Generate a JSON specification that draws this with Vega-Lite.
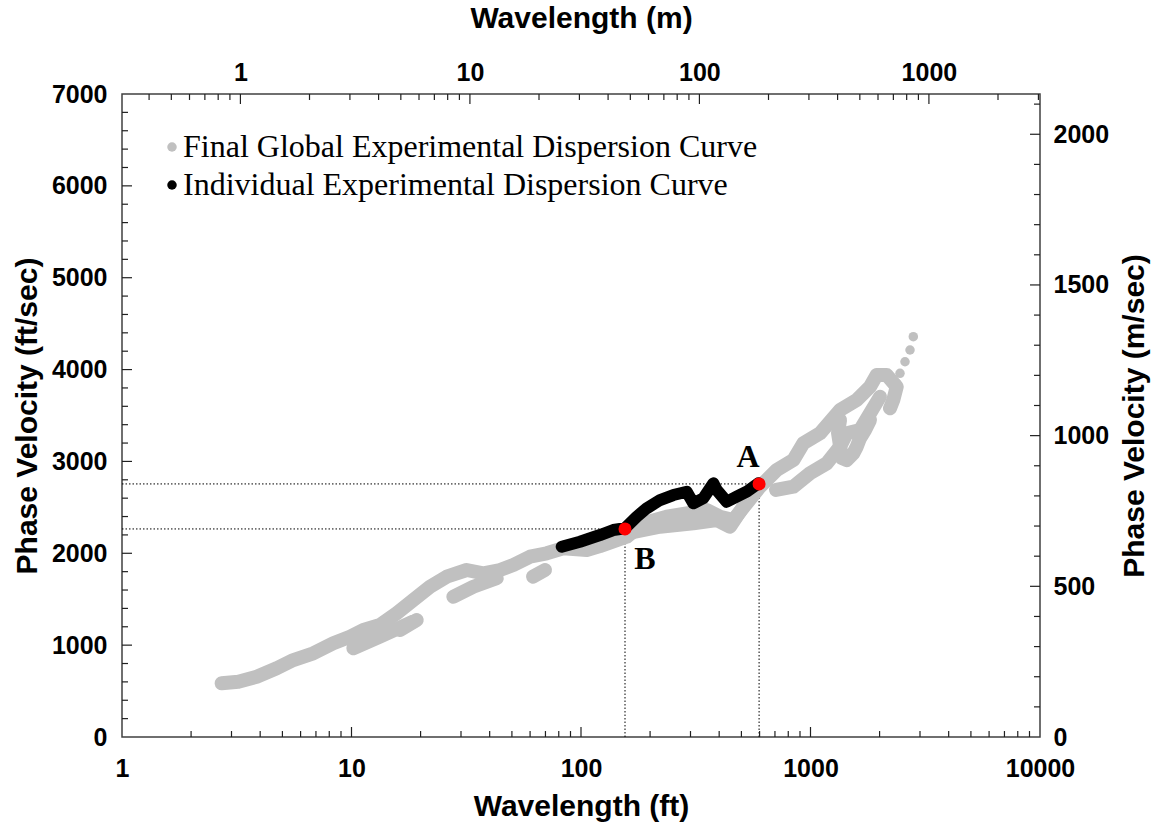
{
  "$schema": "https://vega.github.io/schema/vega-lite/v6.json",
  "width": 918,
  "height": 643,
  "autosize": "none",
  "padding": {"left": 122, "top": 94, "right": 113, "bottom": 93},
  "background": "white",
  "config": {
    "view": {"stroke": "#404040", "strokeWidth": 1.5},
    "axis": {
      "grid": false,
      "domain": false,
      "ticks": false,
      "labelFont": "Liberation Sans",
      "labelFontWeight": "bold",
      "labelFontSize": 25,
      "labelColor": "black",
      "titleFont": "Liberation Sans",
      "titleFontWeight": "bold",
      "titleFontSize": 30,
      "titleColor": "black"
    },
    "legend": {
      "orient": "none",
      "legendX": 34,
      "legendY": 37,
      "padding": 0,
      "labelFont": "Liberation Serif",
      "labelFontSize": 32,
      "labelColor": "black",
      "labelLimit": 900,
      "labelOffset": -5,
      "symbolType": "circle",
      "symbolSize": 90,
      "symbolStrokeWidth": 0,
      "rowPadding": 6
    }
  },
  "datasets": {
    "tickmarks": [
      {"x": 10, "x2": 10, "y": 0, "y2": 109},
      {"x": 100, "x2": 100, "y": 0, "y2": 109},
      {"x": 1000, "x2": 1000, "y": 0, "y2": 109},
      {"x": 2, "x2": 2, "y": 0, "y2": 65},
      {"x": 3, "x2": 3, "y": 0, "y2": 65},
      {"x": 4, "x2": 4, "y": 0, "y2": 65},
      {"x": 5, "x2": 5, "y": 0, "y2": 65},
      {"x": 6, "x2": 6, "y": 0, "y2": 65},
      {"x": 7, "x2": 7, "y": 0, "y2": 65},
      {"x": 8, "x2": 8, "y": 0, "y2": 65},
      {"x": 9, "x2": 9, "y": 0, "y2": 65},
      {"x": 20, "x2": 20, "y": 0, "y2": 65},
      {"x": 30, "x2": 30, "y": 0, "y2": 65},
      {"x": 40, "x2": 40, "y": 0, "y2": 65},
      {"x": 50, "x2": 50, "y": 0, "y2": 65},
      {"x": 60, "x2": 60, "y": 0, "y2": 65},
      {"x": 70, "x2": 70, "y": 0, "y2": 65},
      {"x": 80, "x2": 80, "y": 0, "y2": 65},
      {"x": 90, "x2": 90, "y": 0, "y2": 65},
      {"x": 200, "x2": 200, "y": 0, "y2": 65},
      {"x": 300, "x2": 300, "y": 0, "y2": 65},
      {"x": 400, "x2": 400, "y": 0, "y2": 65},
      {"x": 500, "x2": 500, "y": 0, "y2": 65},
      {"x": 600, "x2": 600, "y": 0, "y2": 65},
      {"x": 700, "x2": 700, "y": 0, "y2": 65},
      {"x": 800, "x2": 800, "y": 0, "y2": 65},
      {"x": 900, "x2": 900, "y": 0, "y2": 65},
      {"x": 2000, "x2": 2000, "y": 0, "y2": 65},
      {"x": 3000, "x2": 3000, "y": 0, "y2": 65},
      {"x": 4000, "x2": 4000, "y": 0, "y2": 65},
      {"x": 5000, "x2": 5000, "y": 0, "y2": 65},
      {"x": 6000, "x2": 6000, "y": 0, "y2": 65},
      {"x": 7000, "x2": 7000, "y": 0, "y2": 65},
      {"x": 8000, "x2": 8000, "y": 0, "y2": 65},
      {"x": 9000, "x2": 9000, "y": 0, "y2": 65},
      {"x": 3.28084, "x2": 3.28084, "y": 7000, "y2": 6891},
      {"x": 32.8084, "x2": 32.8084, "y": 7000, "y2": 6891},
      {"x": 328.084, "x2": 328.084, "y": 7000, "y2": 6891},
      {"x": 3280.84, "x2": 3280.84, "y": 7000, "y2": 6891},
      {"x": 1.3123, "x2": 1.3123, "y": 7000, "y2": 6935},
      {"x": 1.6404, "x2": 1.6404, "y": 7000, "y2": 6935},
      {"x": 1.9685, "x2": 1.9685, "y": 7000, "y2": 6935},
      {"x": 2.2966, "x2": 2.2966, "y": 7000, "y2": 6935},
      {"x": 2.6247, "x2": 2.6247, "y": 7000, "y2": 6935},
      {"x": 2.9528, "x2": 2.9528, "y": 7000, "y2": 6935},
      {"x": 6.5617, "x2": 6.5617, "y": 7000, "y2": 6935},
      {"x": 9.8425, "x2": 9.8425, "y": 7000, "y2": 6935},
      {"x": 13.1234, "x2": 13.1234, "y": 7000, "y2": 6935},
      {"x": 16.4042, "x2": 16.4042, "y": 7000, "y2": 6935},
      {"x": 19.685, "x2": 19.685, "y": 7000, "y2": 6935},
      {"x": 22.9659, "x2": 22.9659, "y": 7000, "y2": 6935},
      {"x": 26.2467, "x2": 26.2467, "y": 7000, "y2": 6935},
      {"x": 29.5276, "x2": 29.5276, "y": 7000, "y2": 6935},
      {"x": 65.617, "x2": 65.617, "y": 7000, "y2": 6935},
      {"x": 98.425, "x2": 98.425, "y": 7000, "y2": 6935},
      {"x": 131.234, "x2": 131.234, "y": 7000, "y2": 6935},
      {"x": 164.042, "x2": 164.042, "y": 7000, "y2": 6935},
      {"x": 196.85, "x2": 196.85, "y": 7000, "y2": 6935},
      {"x": 229.659, "x2": 229.659, "y": 7000, "y2": 6935},
      {"x": 262.467, "x2": 262.467, "y": 7000, "y2": 6935},
      {"x": 295.276, "x2": 295.276, "y": 7000, "y2": 6935},
      {"x": 656.17, "x2": 656.17, "y": 7000, "y2": 6935},
      {"x": 984.25, "x2": 984.25, "y": 7000, "y2": 6935},
      {"x": 1312.34, "x2": 1312.34, "y": 7000, "y2": 6935},
      {"x": 1640.42, "x2": 1640.42, "y": 7000, "y2": 6935},
      {"x": 1968.5, "x2": 1968.5, "y": 7000, "y2": 6935},
      {"x": 2296.59, "x2": 2296.59, "y": 7000, "y2": 6935},
      {"x": 2624.67, "x2": 2624.67, "y": 7000, "y2": 6935},
      {"x": 2952.76, "x2": 2952.76, "y": 7000, "y2": 6935},
      {"x": 6561.7, "x2": 6561.7, "y": 7000, "y2": 6935},
      {"x": 9842.5, "x2": 9842.5, "y": 7000, "y2": 6935},
      {"x": 1, "x2": 1.1055, "y": 1000, "y2": 1000},
      {"x": 1, "x2": 1.1055, "y": 2000, "y2": 2000},
      {"x": 1, "x2": 1.1055, "y": 3000, "y2": 3000},
      {"x": 1, "x2": 1.1055, "y": 4000, "y2": 4000},
      {"x": 1, "x2": 1.1055, "y": 5000, "y2": 5000},
      {"x": 1, "x2": 1.1055, "y": 6000, "y2": 6000},
      {"x": 1, "x2": 1.062, "y": 200, "y2": 200},
      {"x": 1, "x2": 1.062, "y": 400, "y2": 400},
      {"x": 1, "x2": 1.062, "y": 600, "y2": 600},
      {"x": 1, "x2": 1.062, "y": 800, "y2": 800},
      {"x": 1, "x2": 1.062, "y": 1200, "y2": 1200},
      {"x": 1, "x2": 1.062, "y": 1400, "y2": 1400},
      {"x": 1, "x2": 1.062, "y": 1600, "y2": 1600},
      {"x": 1, "x2": 1.062, "y": 1800, "y2": 1800},
      {"x": 1, "x2": 1.062, "y": 2200, "y2": 2200},
      {"x": 1, "x2": 1.062, "y": 2400, "y2": 2400},
      {"x": 1, "x2": 1.062, "y": 2600, "y2": 2600},
      {"x": 1, "x2": 1.062, "y": 2800, "y2": 2800},
      {"x": 1, "x2": 1.062, "y": 3200, "y2": 3200},
      {"x": 1, "x2": 1.062, "y": 3400, "y2": 3400},
      {"x": 1, "x2": 1.062, "y": 3600, "y2": 3600},
      {"x": 1, "x2": 1.062, "y": 3800, "y2": 3800},
      {"x": 1, "x2": 1.062, "y": 4200, "y2": 4200},
      {"x": 1, "x2": 1.062, "y": 4400, "y2": 4400},
      {"x": 1, "x2": 1.062, "y": 4600, "y2": 4600},
      {"x": 1, "x2": 1.062, "y": 4800, "y2": 4800},
      {"x": 1, "x2": 1.062, "y": 5200, "y2": 5200},
      {"x": 1, "x2": 1.062, "y": 5400, "y2": 5400},
      {"x": 1, "x2": 1.062, "y": 5600, "y2": 5600},
      {"x": 1, "x2": 1.062, "y": 5800, "y2": 5800},
      {"x": 1, "x2": 1.062, "y": 6200, "y2": 6200},
      {"x": 1, "x2": 1.062, "y": 6400, "y2": 6400},
      {"x": 1, "x2": 1.062, "y": 6600, "y2": 6600},
      {"x": 1, "x2": 1.062, "y": 6800, "y2": 6800},
      {"x": 10000, "x2": 9046, "y": 1640.42, "y2": 1640.42},
      {"x": 10000, "x2": 9046, "y": 3280.84, "y2": 3280.84},
      {"x": 10000, "x2": 9046, "y": 4921.26, "y2": 4921.26},
      {"x": 10000, "x2": 9046, "y": 6561.68, "y2": 6561.68},
      {"x": 10000, "x2": 9416, "y": 328.08, "y2": 328.08},
      {"x": 10000, "x2": 9416, "y": 656.17, "y2": 656.17},
      {"x": 10000, "x2": 9416, "y": 984.25, "y2": 984.25},
      {"x": 10000, "x2": 9416, "y": 1312.34, "y2": 1312.34},
      {"x": 10000, "x2": 9416, "y": 1968.5, "y2": 1968.5},
      {"x": 10000, "x2": 9416, "y": 2296.59, "y2": 2296.59},
      {"x": 10000, "x2": 9416, "y": 2624.67, "y2": 2624.67},
      {"x": 10000, "x2": 9416, "y": 2952.76, "y2": 2952.76},
      {"x": 10000, "x2": 9416, "y": 3608.92, "y2": 3608.92},
      {"x": 10000, "x2": 9416, "y": 3937.01, "y2": 3937.01},
      {"x": 10000, "x2": 9416, "y": 4265.09, "y2": 4265.09},
      {"x": 10000, "x2": 9416, "y": 4593.18, "y2": 4593.18},
      {"x": 10000, "x2": 9416, "y": 5249.34, "y2": 5249.34},
      {"x": 10000, "x2": 9416, "y": 5577.43, "y2": 5577.43},
      {"x": 10000, "x2": 9416, "y": 5905.51, "y2": 5905.51},
      {"x": 10000, "x2": 9416, "y": 6233.6, "y2": 6233.6},
      {"x": 10000, "x2": 9416, "y": 6889.76, "y2": 6889.76}
    ],
    "gray": [
      {"series": "Final Global Experimental Dispersion Curve", "branch": "g1", "seq": 1, "x": 2.718, "y": 585},
      {"series": "Final Global Experimental Dispersion Curve", "branch": "g1", "seq": 2, "x": 3.213, "y": 602},
      {"series": "Final Global Experimental Dispersion Curve", "branch": "g1", "seq": 3, "x": 3.863, "y": 656},
      {"series": "Final Global Experimental Dispersion Curve", "branch": "g1", "seq": 4, "x": 4.721, "y": 748},
      {"series": "Final Global Experimental Dispersion Curve", "branch": "g1", "seq": 5, "x": 5.578, "y": 838},
      {"series": "Final Global Experimental Dispersion Curve", "branch": "g1", "seq": 6, "x": 6.817, "y": 911},
      {"series": "Final Global Experimental Dispersion Curve", "branch": "g1", "seq": 7, "x": 8.33, "y": 1020},
      {"series": "Final Global Experimental Dispersion Curve", "branch": "g1", "seq": 8, "x": 9.85, "y": 1092},
      {"series": "Final Global Experimental Dispersion Curve", "branch": "g1", "seq": 9, "x": 11.26, "y": 1165},
      {"series": "Final Global Experimental Dispersion Curve", "branch": "g1", "seq": 10, "x": 13.31, "y": 1219},
      {"series": "Final Global Experimental Dispersion Curve", "branch": "g1", "seq": 11, "x": 15.74, "y": 1347},
      {"series": "Final Global Experimental Dispersion Curve", "branch": "g1", "seq": 12, "x": 18.59, "y": 1491},
      {"series": "Final Global Experimental Dispersion Curve", "branch": "g1", "seq": 13, "x": 21.98, "y": 1636},
      {"series": "Final Global Experimental Dispersion Curve", "branch": "g1", "seq": 14, "x": 25.99, "y": 1745},
      {"series": "Final Global Experimental Dispersion Curve", "branch": "g1", "seq": 15, "x": 31.77, "y": 1818},
      {"series": "Final Global Experimental Dispersion Curve", "branch": "g1", "seq": 16, "x": 37.53, "y": 1782},
      {"series": "Final Global Experimental Dispersion Curve", "branch": "g1", "seq": 17, "x": 44.37, "y": 1818},
      {"series": "Final Global Experimental Dispersion Curve", "branch": "g1", "seq": 18, "x": 50.7, "y": 1872},
      {"series": "Final Global Experimental Dispersion Curve", "branch": "g1", "seq": 19, "x": 59.95, "y": 1963},
      {"series": "Final Global Experimental Dispersion Curve", "branch": "g1", "seq": 20, "x": 70.88, "y": 2000},
      {"series": "Final Global Experimental Dispersion Curve", "branch": "g1", "seq": 21, "x": 83.7, "y": 2054},
      {"series": "Final Global Experimental Dispersion Curve", "branch": "g1", "seq": 22, "x": 105.9, "y": 2036},
      {"series": "Final Global Experimental Dispersion Curve", "branch": "g1", "seq": 23, "x": 121.0, "y": 2079},
      {"series": "Final Global Experimental Dispersion Curve", "branch": "g1", "seq": 24, "x": 158.2, "y": 2180},
      {"series": "Final Global Experimental Dispersion Curve", "branch": "g1", "seq": 25, "x": 186.9, "y": 2326},
      {"series": "Final Global Experimental Dispersion Curve", "branch": "g1", "seq": 26, "x": 236.3, "y": 2398},
      {"series": "Final Global Experimental Dispersion Curve", "branch": "g1", "seq": 27, "x": 288.8, "y": 2435},
      {"series": "Final Global Experimental Dispersion Curve", "branch": "g1", "seq": 28, "x": 353.0, "y": 2471},
      {"series": "Final Global Experimental Dispersion Curve", "branch": "g1", "seq": 29, "x": 403.4, "y": 2398},
      {"series": "Final Global Experimental Dispersion Curve", "branch": "g1", "seq": 30, "x": 460.9, "y": 2362},
      {"series": "Final Global Experimental Dispersion Curve", "branch": "g1", "seq": 31, "x": 527.2, "y": 2544},
      {"series": "Final Global Experimental Dispersion Curve", "branch": "g1", "seq": 32, "x": 602.6, "y": 2725},
      {"series": "Final Global Experimental Dispersion Curve", "branch": "g1", "seq": 33, "x": 712.4, "y": 2907},
      {"series": "Final Global Experimental Dispersion Curve", "branch": "g1", "seq": 34, "x": 841.7, "y": 3015},
      {"series": "Final Global Experimental Dispersion Curve", "branch": "g1", "seq": 35, "x": 930.4, "y": 3197},
      {"series": "Final Global Experimental Dispersion Curve", "branch": "g1", "seq": 36, "x": 1100, "y": 3306},
      {"series": "Final Global Experimental Dispersion Curve", "branch": "g1", "seq": 37, "x": 1345, "y": 3560},
      {"series": "Final Global Experimental Dispersion Curve", "branch": "g1", "seq": 38, "x": 1590, "y": 3669},
      {"series": "Final Global Experimental Dispersion Curve", "branch": "g1", "seq": 39, "x": 1817, "y": 3813},
      {"series": "Final Global Experimental Dispersion Curve", "branch": "g1", "seq": 40, "x": 1943, "y": 3941},
      {"series": "Final Global Experimental Dispersion Curve", "branch": "g1", "seq": 41, "x": 2148, "y": 3941},
      {"series": "Final Global Experimental Dispersion Curve", "branch": "g1", "seq": 42, "x": 2375, "y": 3813},
      {"series": "Final Global Experimental Dispersion Curve", "branch": "g1", "seq": 43, "x": 2295, "y": 3669},
      {"series": "Final Global Experimental Dispersion Curve", "branch": "g1", "seq": 44, "x": 2220, "y": 3578},
      {"series": "Final Global Experimental Dispersion Curve", "branch": "g2a", "seq": 1, "x": 10.18, "y": 966},
      {"series": "Final Global Experimental Dispersion Curve", "branch": "g2a", "seq": 2, "x": 13.31, "y": 1092},
      {"series": "Final Global Experimental Dispersion Curve", "branch": "g2a", "seq": 3, "x": 18.53, "y": 1255},
      {"series": "Final Global Experimental Dispersion Curve", "branch": "g2b", "seq": 1, "x": 16.27, "y": 1165},
      {"series": "Final Global Experimental Dispersion Curve", "branch": "g2b", "seq": 2, "x": 19.24, "y": 1274},
      {"series": "Final Global Experimental Dispersion Curve", "branch": "g3", "seq": 1, "x": 27.77, "y": 1527},
      {"series": "Final Global Experimental Dispersion Curve", "branch": "g3", "seq": 2, "x": 33.94, "y": 1636},
      {"series": "Final Global Experimental Dispersion Curve", "branch": "g3", "seq": 3, "x": 42.93, "y": 1728},
      {"series": "Final Global Experimental Dispersion Curve", "branch": "g3b", "seq": 1, "x": 61.78, "y": 1745},
      {"series": "Final Global Experimental Dispersion Curve", "branch": "g3b", "seq": 2, "x": 69.68, "y": 1818},
      {"series": "Final Global Experimental Dispersion Curve", "branch": "g4", "seq": 1, "x": 158.2, "y": 2217},
      {"series": "Final Global Experimental Dispersion Curve", "branch": "g4", "seq": 2, "x": 220.9, "y": 2289},
      {"series": "Final Global Experimental Dispersion Curve", "branch": "g4", "seq": 3, "x": 308.5, "y": 2326},
      {"series": "Final Global Experimental Dispersion Curve", "branch": "g4", "seq": 4, "x": 390.3, "y": 2362},
      {"series": "Final Global Experimental Dispersion Curve", "branch": "g4", "seq": 5, "x": 445.9, "y": 2289},
      {"series": "Final Global Experimental Dispersion Curve", "branch": "g4", "seq": 6, "x": 509.5, "y": 2507},
      {"series": "Final Global Experimental Dispersion Curve", "branch": "g5", "seq": 0, "x": 708, "y": 2689},
      {"series": "Final Global Experimental Dispersion Curve", "branch": "g5", "seq": 1, "x": 841.7, "y": 2725},
      {"series": "Final Global Experimental Dispersion Curve", "branch": "g5", "seq": 2, "x": 994.9, "y": 2871},
      {"series": "Final Global Experimental Dispersion Curve", "branch": "g5", "seq": 3, "x": 1177, "y": 2979},
      {"series": "Final Global Experimental Dispersion Curve", "branch": "g5", "seq": 4, "x": 1345, "y": 3160},
      {"series": "Final Global Experimental Dispersion Curve", "branch": "g5", "seq": 5, "x": 1438, "y": 3306},
      {"series": "Final Global Experimental Dispersion Curve", "branch": "g5", "seq": 6, "x": 1643, "y": 3342},
      {"series": "Final Global Experimental Dispersion Curve", "branch": "g5", "seq": 7, "x": 1817, "y": 3524},
      {"series": "Final Global Experimental Dispersion Curve", "branch": "g5", "seq": 8, "x": 2008, "y": 3704},
      {"series": "Final Global Experimental Dispersion Curve", "branch": "g6", "seq": 1, "x": 1345, "y": 3451},
      {"series": "Final Global Experimental Dispersion Curve", "branch": "g6", "seq": 2, "x": 1318, "y": 3309},
      {"series": "Final Global Experimental Dispersion Curve", "branch": "g6", "seq": 3, "x": 1345, "y": 3168},
      {"series": "Final Global Experimental Dispersion Curve", "branch": "g6", "seq": 4, "x": 1372, "y": 3037},
      {"series": "Final Global Experimental Dispersion Curve", "branch": "g6", "seq": 5, "x": 1438, "y": 3015},
      {"series": "Final Global Experimental Dispersion Curve", "branch": "g6", "seq": 6, "x": 1537, "y": 3088},
      {"series": "Final Global Experimental Dispersion Curve", "branch": "g6", "seq": 7, "x": 1590, "y": 3160},
      {"series": "Final Global Experimental Dispersion Curve", "branch": "g6", "seq": 8, "x": 1643, "y": 3252},
      {"series": "Final Global Experimental Dispersion Curve", "branch": "g6", "seq": 9, "x": 1728, "y": 3342},
      {"series": "Final Global Experimental Dispersion Curve", "branch": "g6", "seq": 10, "x": 1817, "y": 3451},
      {"series": "Final Global Experimental Dispersion Curve", "branch": "tail", "seq": 1, "x": 2334, "y": 3759},
      {"series": "Final Global Experimental Dispersion Curve", "branch": "tail", "seq": 2, "x": 2375, "y": 3850},
      {"series": "Final Global Experimental Dispersion Curve", "branch": "tail", "seq": 3, "x": 2455, "y": 3959},
      {"series": "Final Global Experimental Dispersion Curve", "branch": "tail", "seq": 4, "x": 2581, "y": 4085},
      {"series": "Final Global Experimental Dispersion Curve", "branch": "tail", "seq": 5, "x": 2714, "y": 4213},
      {"series": "Final Global Experimental Dispersion Curve", "branch": "tail", "seq": 6, "x": 2805, "y": 4358}
    ],
    "black": [
      {"series": "Individual Experimental Dispersion Curve", "seq": 1, "x": 82.4, "y": 2072},
      {"series": "Individual Experimental Dispersion Curve", "seq": 2, "x": 99.0, "y": 2126},
      {"series": "Individual Experimental Dispersion Curve", "seq": 3, "x": 110.6, "y": 2166},
      {"series": "Individual Experimental Dispersion Curve", "seq": 4, "x": 121.0, "y": 2199},
      {"series": "Individual Experimental Dispersion Curve", "seq": 5, "x": 138.2, "y": 2253},
      {"series": "Individual Experimental Dispersion Curve", "seq": 6, "x": 155.5, "y": 2272},
      {"series": "Individual Experimental Dispersion Curve", "seq": 7, "x": 174.9, "y": 2398},
      {"series": "Individual Experimental Dispersion Curve", "seq": 8, "x": 193.3, "y": 2490},
      {"series": "Individual Experimental Dispersion Curve", "seq": 9, "x": 221.0, "y": 2580},
      {"series": "Individual Experimental Dispersion Curve", "seq": 10, "x": 252.5, "y": 2634},
      {"series": "Individual Experimental Dispersion Curve", "seq": 11, "x": 288.8, "y": 2670},
      {"series": "Individual Experimental Dispersion Curve", "seq": 12, "x": 308.5, "y": 2544},
      {"series": "Individual Experimental Dispersion Curve", "seq": 13, "x": 341.2, "y": 2599},
      {"series": "Individual Experimental Dispersion Curve", "seq": 14, "x": 377.3, "y": 2762},
      {"series": "Individual Experimental Dispersion Curve", "seq": 15, "x": 390.3, "y": 2689},
      {"series": "Individual Experimental Dispersion Curve", "seq": 16, "x": 431.4, "y": 2561},
      {"series": "Individual Experimental Dispersion Curve", "seq": 17, "x": 476.9, "y": 2616},
      {"series": "Individual Experimental Dispersion Curve", "seq": 18, "x": 527.2, "y": 2670},
      {"series": "Individual Experimental Dispersion Curve", "seq": 19, "x": 592.4, "y": 2762}
    ],
    "picks": [
      {"point": "A", "x": 597, "y": 2755},
      {"point": "B", "x": 155.5, "y": 2265}
    ],
    "guides": [
      {"pick": "A", "x": 1, "x2": 597, "y": 2755, "y2": 2755},
      {"pick": "A", "x": 597, "x2": 597, "y": 0, "y2": 2755},
      {"pick": "B", "x": 1, "x2": 155.5, "y": 2265, "y2": 2265},
      {"pick": "B", "x": 155.5, "x2": 155.5, "y": 0, "y2": 2265}
    ]
  },
  "layer": [
    {
      "data": {"name": "guides"},
      "mark": {"type": "rule", "color": "black", "strokeWidth": 1, "strokeDash": [1.5, 2]},
      "encoding": {
        "x": {"field": "x", "type": "quantitative", "scale": {"type": "log", "domain": [1, 10000]},
          "axis": {"orient": "bottom", "values": [1, 10, 100, 1000, 10000], "labelPadding": 19, "format": "d", "title": "Wavelength (ft)", "titleY": 69, "titleBaseline": "middle", "labelFlush": false, "labelOverlap": false}},
        "x2": {"field": "x2"},
        "y": {"field": "y", "type": "quantitative", "scale": {"domain": [0, 7000], "nice": false},
          "axis": {"orient": "left", "values": [0, 1000, 2000, 3000, 4000, 5000, 6000, 7000], "labelPadding": 15, "format": "d", "title": "Phase Velocity (ft/sec)", "titleX": -95, "titleBaseline": "middle", "titleAngle": -90, "labelFlush": false, "labelOverlap": false}},
        "y2": {"field": "y2"}
      }
    },
    {
      "data": {"name": "tickmarks"},
      "mark": {"type": "rule", "color": "#202020", "strokeWidth": 1.2},
      "encoding": {
        "x": {"field": "x", "type": "quantitative", "scale": {"type": "log", "domain": [1, 10000]}, "axis": null},
        "x2": {"field": "x2"},
        "y": {"field": "y", "type": "quantitative", "scale": {"domain": [0, 7000], "nice": false}, "axis": null},
        "y2": {"field": "y2"}
      }
    },
    {
      "data": {"name": "gray"},
      "transform": [{"filter": "datum.branch != 'tail'"}],
      "mark": {"type": "line", "color": "#c0c0c0", "strokeWidth": 14, "strokeCap": "round", "strokeJoin": "round"},
      "encoding": {
        "x": {"field": "x", "type": "quantitative", "scale": {"type": "log", "domain": [1, 10000]}, "axis": null},
        "y": {"field": "y", "type": "quantitative", "scale": {"domain": [0, 7000], "nice": false}, "axis": null},
        "detail": {"field": "branch", "type": "nominal"},
        "order": {"field": "seq", "type": "quantitative"}
      }
    },
    {
      "data": {"name": "gray"},
      "mark": {"type": "point", "filled": true, "size": 90, "opacity": 1, "strokeWidth": 0},
      "encoding": {
        "x": {"field": "x", "type": "quantitative", "scale": {"type": "log", "domain": [1, 10000]},
          "axis": {"orient": "top", "values": [3.28084, 32.8084, 328.084, 3280.84], "labelPadding": 9, "labelExpr": "format(datum.value / 3.28084, '.0f')", "title": "Wavelength (m)", "titleY": -76, "titleBaseline": "middle", "labelFlush": false, "labelOverlap": false}},
        "y": {"field": "y", "type": "quantitative", "scale": {"domain": [0, 7000], "nice": false},
          "axis": {"orient": "right", "values": [0, 1640.42, 3280.84, 4921.26, 6561.68], "labelPadding": 13, "labelExpr": "format(datum.value * 0.3048, '.0f')", "title": "Phase Velocity (m/sec)", "titleX": 94, "titleBaseline": "middle", "titleAngle": -90, "labelFlush": false, "labelOverlap": false}},
        "color": {"field": "series", "type": "nominal",
          "scale": {"domain": ["Final Global Experimental Dispersion Curve", "Individual Experimental Dispersion Curve"], "range": ["#c0c0c0", "#000000"]},
          "legend": {"title": null, "direction": "vertical"}}
      }
    },
    {
      "data": {"name": "black"},
      "mark": {"type": "line", "color": "#000000", "strokeWidth": 12, "strokeCap": "round", "strokeJoin": "round"},
      "encoding": {
        "x": {"field": "x", "type": "quantitative", "scale": {"type": "log", "domain": [1, 10000]}, "axis": null},
        "y": {"field": "y", "type": "quantitative", "scale": {"domain": [0, 7000], "nice": false}, "axis": null},
        "order": {"field": "seq", "type": "quantitative"}
      }
    },
    {
      "data": {"name": "black"},
      "mark": {"type": "point", "filled": true, "size": 90, "opacity": 1, "strokeWidth": 0},
      "encoding": {
        "x": {"field": "x", "type": "quantitative", "scale": {"type": "log", "domain": [1, 10000]}, "axis": null},
        "y": {"field": "y", "type": "quantitative", "scale": {"domain": [0, 7000], "nice": false}, "axis": null},
        "color": {"field": "series", "type": "nominal",
          "scale": {"domain": ["Final Global Experimental Dispersion Curve", "Individual Experimental Dispersion Curve"], "range": ["#c0c0c0", "#000000"]},
          "legend": {"title": null, "direction": "vertical"}}
      }
    },
    {
      "data": {"name": "picks"},
      "mark": {"type": "point", "filled": true, "size": 170, "opacity": 1, "color": "#ff0000", "strokeWidth": 0},
      "encoding": {
        "x": {"field": "x", "type": "quantitative", "scale": {"type": "log", "domain": [1, 10000]}, "axis": null},
        "y": {"field": "y", "type": "quantitative", "scale": {"domain": [0, 7000], "nice": false}, "axis": null}
      }
    },
    {
      "data": {"name": "picks"},
      "transform": [{"filter": "datum.point == 'A'"}],
      "mark": {"type": "text", "font": "Liberation Serif", "fontWeight": "bold", "fontSize": 32, "color": "black", "align": "center", "baseline": "middle", "dx": -11, "dy": -27},
      "encoding": {
        "x": {"field": "x", "type": "quantitative", "scale": {"type": "log", "domain": [1, 10000]}, "axis": null},
        "y": {"field": "y", "type": "quantitative", "scale": {"domain": [0, 7000], "nice": false}, "axis": null},
        "text": {"field": "point", "type": "nominal"}
      }
    },
    {
      "data": {"name": "picks"},
      "transform": [{"filter": "datum.point == 'B'"}],
      "mark": {"type": "text", "font": "Liberation Serif", "fontWeight": "bold", "fontSize": 32, "color": "black", "align": "center", "baseline": "middle", "dx": 20, "dy": 30},
      "encoding": {
        "x": {"field": "x", "type": "quantitative", "scale": {"type": "log", "domain": [1, 10000]}, "axis": null},
        "y": {"field": "y", "type": "quantitative", "scale": {"domain": [0, 7000], "nice": false}, "axis": null},
        "text": {"field": "point", "type": "nominal"}
      }
    }
  ],
  "resolve": {"axis": {"x": "independent", "y": "independent"}}
}
